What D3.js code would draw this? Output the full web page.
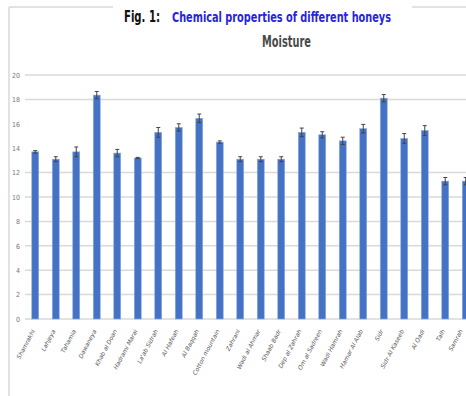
<!DOCTYPE html>
<html>
<head>
<meta charset="utf-8">
<script src="https://cdn.jsdelivr.net/npm/d3@7"></script>
<style>
  body { margin: 0; background: #fff; }
  svg { display: block; }
</style>
</head>
<body>
<svg></svg>
<script>
const width = 466;
const height = 396;

// honey samples
const honeys = ["Shamrakhi", "Lahjeya", "Tahamia", "Dawaneya", "Khab al Doan", "Hadrami Marai",
    "La'ab Sidrah", "Al Hafeah", "Al Baqqah", "Cotton mountain", "Zahrani", "Wadi al Ahmar",
    "Shaab Badr", "Dep al Zahrah", "Om al Sadreen", "Wadi Hamrah", "Hamar Al Alab", "Sidr",
    "Sidr Al Kaseeb", "Al Qadi", "Talh", "Samrah"];
const moisture = [13.7, 13.1, 13.7, 18.35, 13.6, 13.2, 15.3, 15.7, 16.45, 14.5, 13.1, 13.1,
    13.1, 15.3, 15.1, 14.6, 15.6, 18.1, 14.8, 15.45, 11.3, 11.3];
const moistureErr = [0.1, 0.2, 0.4, 0.3, 0.3, 0.05, 0.4, 0.3, 0.35, 0.1, 0.2, 0.2,
    0.2, 0.35, 0.25, 0.3, 0.35, 0.3, 0.4, 0.4, 0.3, 0.3];
const yTicks = [0, 2, 4, 6, 8, 10, 12, 14, 16, 18, 20];
const gridTicks = [0, 2, 4, 6, 8, 10, 12, 18, 20];

const svg = d3.select('svg')
    .attr('width', width).attr('height', height);

// chart frame (top edge broken by the title)
svg.append('line').attr('x1', 9).attr('x2', 9).attr('y1', 7).attr('y2', height)
    .attr('stroke', '#d9d9d9').attr('stroke-width', 1.5);
svg.append('line').attr('x1', 9).attr('x2', 113).attr('y1', 7).attr('y2', 7)
    .attr('stroke', '#d9d9d9').attr('stroke-width', 1.5);
svg.append('line').attr('x1', 412).attr('x2', width).attr('y1', 7).attr('y2', 7)
    .attr('stroke', '#d9d9d9').attr('stroke-width', 1.5);

// title
svg.append('text').attr('x', 124).attr('y', 22)
    .style('font-family', '"Liberation Sans Narrow", "DejaVu Sans Condensed", sans-serif')
    .style('font-weight', 'bold').style('font-size', '16px').attr('fill', '#111')
    .attr('textLength', 36).attr('lengthAdjust', 'spacingAndGlyphs')
    .text('Fig. 1:');
svg.append('text').attr('x', 172).attr('y', 22)
    .style('font-family', '"Liberation Sans Narrow", "DejaVu Sans Condensed", sans-serif')
    .style('font-weight', 'bold').style('font-size', '14px').attr('fill', '#2525dd')
    .attr('textLength', 219).attr('lengthAdjust', 'spacingAndGlyphs')
    .text('Chemical properties of different honeys');
svg.append('text').attr('x', 262).attr('y', 47)
    .style('font-family', '"Liberation Sans Narrow", "DejaVu Sans Condensed", sans-serif')
    .style('font-weight', 'bold').style('font-size', '15px').attr('fill', '#4a4a4a')
    .attr('textLength', 49).attr('lengthAdjust', 'spacingAndGlyphs')
    .text('Moisture');

const x = d3.scaleBand().domain(honeys).range([25, 476]).paddingInner(0.66).paddingOuter(0.33);
const y = d3.scaleLinear().domain([0, 20]).range([319, 75]);

// gridlines
svg.append('g').selectAll('line')
    .data(gridTicks)
    .enter().append('line')
    .attr('x1', 25).attr('x2', width)
    .attr('y1', d => y(d)).attr('y2', d => y(d))
    .attr('stroke', '#d9d9d9').attr('stroke-width', 1.5);

// y axis labels
const yAxis = svg.append('g')
    .attr('transform', 'translate(20,0)')
    .call(d3.axisLeft(y).tickValues(yTicks).tickSize(0).tickPadding(0));
yAxis.select('.domain').remove();
yAxis.selectAll('text')
    .style('font-family', '"Liberation Sans Narrow", "DejaVu Sans Condensed", sans-serif')
    .style('font-size', '7px').attr('fill', '#777');

// bars
svg.append('g').selectAll('rect')
    .data(moisture)
    .enter().append('rect')
    .attr('x', (d, i) => x(honeys[i]))
    .attr('y', d => y(d))
    .attr('width', x.bandwidth())
    .attr('height', d => y(0) - y(d))
    .attr('fill', '#4472c4')
    .attr('stroke', '#8fabdc').attr('stroke-width', 0.6);

// error bars
const errs = svg.append('g').attr('stroke', '#444').attr('stroke-width', 1);
moisture.forEach((v, i) => {
    const cx = x(honeys[i]) + x.bandwidth() / 2;
    const e = moistureErr[i];
    errs.append('line').attr('x1', cx).attr('x2', cx).attr('y1', y(v + e)).attr('y2', y(v - e));
    errs.append('line').attr('x1', cx - 2).attr('x2', cx + 2).attr('y1', y(v + e)).attr('y2', y(v + e));
    errs.append('line').attr('x1', cx - 2).attr('x2', cx + 2).attr('y1', y(v - e)).attr('y2', y(v - e));
});

// x labels, rotated
svg.append('g').selectAll('text')
    .data(honeys)
    .enter().append('text')
    .attr('transform', d => `translate(${Math.min(x(d) + x.bandwidth() / 2, 463)},331) rotate(-62)`)
    .attr('text-anchor', 'end')
    .style('font-family', '"DejaVu Sans", sans-serif')
    .style('font-style', 'italic')
    .style('font-size', '6px').attr('fill', '#555')
    .text(d => d);
</script>
</body>
</html>
